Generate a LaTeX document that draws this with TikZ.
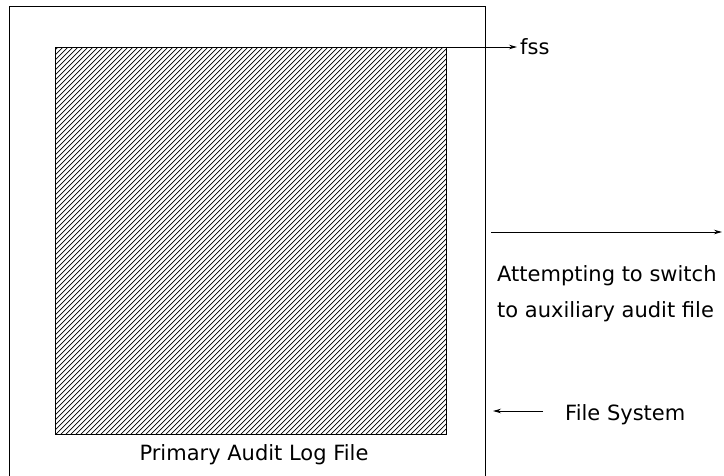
\documentclass[tikz,border=0pt]{standalone}
\usepackage{fontspec}
\setmainfont{DejaVu Sans}
\usetikzlibrary{arrows.meta}
\begin{document}
\begin{tikzpicture}[x=1pt,y=-1pt,
  lbl/.style={font=\fontsize{21}{25}\selectfont, inner sep=0pt},
  arr/.style={-{Stealth[length=8pt,width=4.5pt]}, line width=0.8pt},
  hatchbox/.style={draw, line width=1.2pt, minimum width=391pt, minimum height=387pt,
    inner sep=0pt, anchor=north west,
    path picture={
      \foreach \i in {-78,...,80}
        \draw[line width=0.7pt] ([xshift=\i*5pt]path picture bounding box.south west) -- ++(387pt,387pt);
    }}]
\useasboundingbox (0,0) rectangle (724,476);
% file system frame (open at bottom)
\coordinate (fbl) at (9,476);
\coordinate (ftl) at (9,7);
\coordinate (ftr) at (485,7);
\coordinate (fbr) at (485,476);
\draw[line width=1pt] (fbl) -- (ftl) -- (ftr) -- (fbr);
% primary audit log file
\node[hatchbox] (sq) at (55,47) {};
\node[lbl, anchor=base] (plf) at (254,460) {Primary Audit Log File};
% fss
\node[lbl, anchor=base west] (fss) at (520,55) {fss};
\coordinate (fssend) at (517,47);
\draw[arr] (sq.north east) -- (fssend);
% switching arrow
\coordinate (swA) at (491,232);
\coordinate (swB) at (722,232);
\draw[arr] (swA) -- (swB);
\node[lbl, anchor=base west] (att1) at (497,282) {Attempting to switch};
\node[lbl, anchor=base west] (att2) at (497,317) {to auxiliary audit file};
% file system label
\node[lbl, anchor=base west] (fsys) at (565,420) {File System};
\coordinate (fsA) at (543,411);
\coordinate (fsB) at (493,411);
\draw[arr] (fsA) -- (fsB);
\end{tikzpicture}
\end{document}
